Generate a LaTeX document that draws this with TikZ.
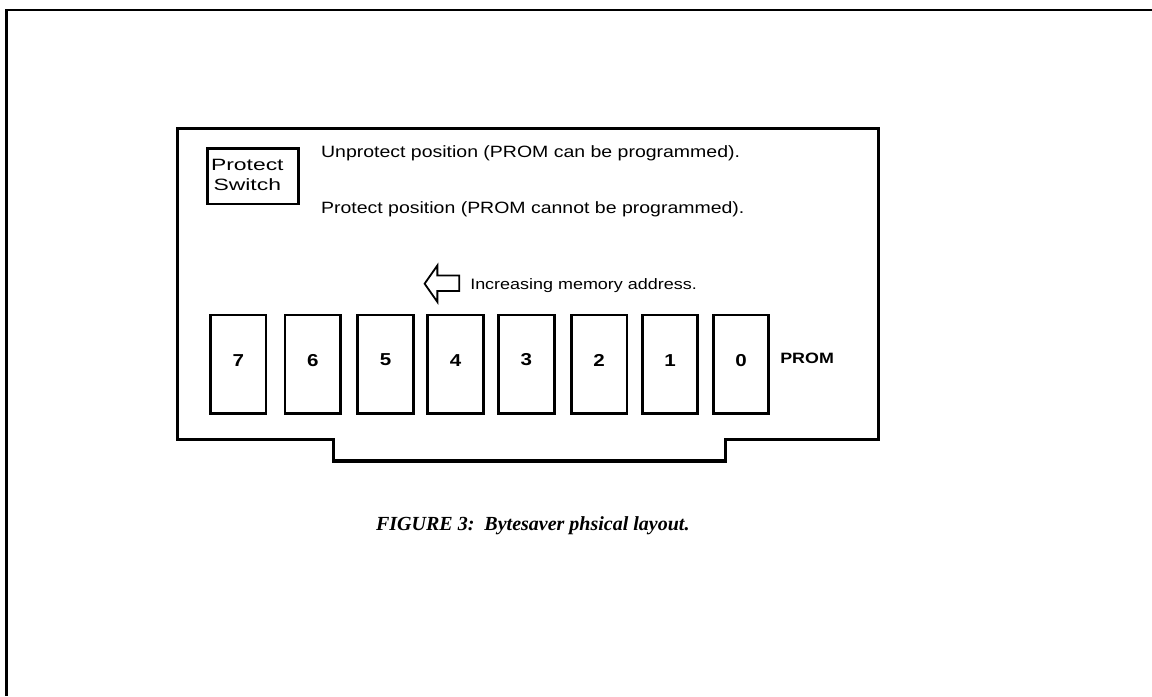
\documentclass[tikz,border=0pt]{standalone}
\usepackage{fontspec}
\setmainfont{Liberation Serif}
\newfontfamily\sfx[FakeStretch=1.19]{Liberation Sans}
\newfontfamily\sfbox[FakeStretch=1.4]{Liberation Sans}
\begin{document}
\begin{tikzpicture}[x=1pt,y=-1pt,
  board/.style={line width=3.5pt,line join=miter},
  frame/.style={line width=2.5pt},
  romchip/.style={draw,line width=3pt,minimum width=61pt,minimum height=108pt,inner sep=0pt,anchor=north west},
  swbox/.style={draw,line width=2.5pt,minimum width=100pt,minimum height=61pt,inner sep=0pt,anchor=north west},
  swtext/.style={anchor=base,inner sep=0pt,font=\sfbox\fontsize{18}{22}\selectfont},
  txt/.style={anchor=base west,inner sep=0pt,font=\sfx\fontsize{18}{22}\selectfont},
  digit/.style={font=\sfx\bfseries\fontsize{19}{22}\selectfont}
]
\useasboundingbox (0,0) rectangle (1267,766);
% outer frame (top and left only)
\draw[frame] (1267,11) -- (7,11) -- (7,766);
% board outline
\draw[board] (195,141) -- (966,141) -- (966,483) -- (798,483) -- (798,507)
  -- (367,507) -- (367,483) -- (195,483) -- cycle;
% protect switch
\node[swbox] (sw) at (227,162) {};
\node[swtext] (sw1) at (272,188) {Protect};
\node[swtext] (sw2) at (272,210) {Switch};
\node[txt] (unp) at (353,173) {Unprotect position (PROM can be programmed).};
\node[txt] (prt) at (353,235) {Protect position (PROM cannot be programmed).};
% arrow
\coordinate (tip) at (467,312);
\draw[line width=2pt,line join=miter] (tip) -- (481,292) -- (481,303) -- (505,303)
  -- (505,320) -- (481,320) -- (481,332) -- cycle;
\node[txt,font=\sfx\fontsize{16.6}{22}\selectfont] (inc) at (517,318) {Increasing memory address.};
% PROM chips
\foreach \xx/\d in {230/7,312/6,392/5,469/4,547/3,627/2,705/1,783/0}{
  \node[romchip,label={[digit,yshift=4.5pt]center:\d}] (c\d) at (\xx,345) {};
}
\node[anchor=base west,inner sep=0pt,font=\sfx\bfseries\fontsize{16.5}{22}\selectfont] (prom) at (858,400) {PROM};
% caption
\node[anchor=base,inner sep=0pt,font=\bfseries\itshape\fontsize{22}{24}\selectfont] (cap) at (586,583) {FIGURE 3:\ \ Bytesaver phsical layout.};
\end{tikzpicture}
\end{document}
